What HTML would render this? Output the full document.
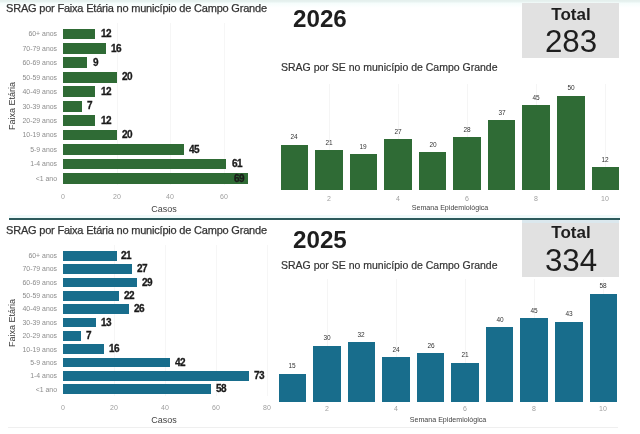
<!DOCTYPE html><html><head><meta charset="utf-8"><style>
html,body{margin:0;padding:0;background:#fff;} body{width:640px;height:434px;position:relative;overflow:hidden;font-family:"Liberation Sans", sans-serif;}
.t{position:absolute;white-space:nowrap;line-height:1;will-change:transform;} .r{position:absolute;}
</style></head><body>
<div class="r" style="left:0.00px;top:0.00px;width:640.00px;height:8.00px;background:linear-gradient(#e4efec 0px,#e8f3f1 2px,#f5fdfc 3px,#ffffff 8px);"></div>
<div class="t" style="left:6.20px;top:2.69px;font-size:11px;color:#333;font-weight:normal;letter-spacing:-0.2px;-webkit-text-stroke:0.25px #333;">SRAG por Faixa Etária no município de Campo Grande</div>
<div class="r" style="left:116.60px;top:22.60px;width:1.00px;height:162.84px;background:#f6f6f6;"></div>
<div class="r" style="left:170.20px;top:22.60px;width:1.00px;height:162.84px;background:#f6f6f6;"></div>
<div class="r" style="left:223.80px;top:22.60px;width:1.00px;height:162.84px;background:#f6f6f6;"></div>
<div class="r" style="left:63.00px;top:28.60px;width:32.16px;height:10.80px;background:#2f6b35;"></div>
<div class="t" style="left:-143.00px;width:200px;text-align:right;top:31.30px;font-size:6.9px;color:#8c8c8c;font-weight:normal;">60+ anos</div>
<div class="t" style="left:100.76px;top:29.13px;font-size:10px;color:#1a1a1a;font-weight:bold;letter-spacing:-0.5px;-webkit-text-stroke:0.3px #1a1a1a;">12</div>
<div class="r" style="left:63.00px;top:43.04px;width:42.88px;height:10.80px;background:#2f6b35;"></div>
<div class="t" style="left:-143.00px;width:200px;text-align:right;top:45.74px;font-size:6.9px;color:#8c8c8c;font-weight:normal;">70-79 anos</div>
<div class="t" style="left:111.48px;top:43.57px;font-size:10px;color:#1a1a1a;font-weight:bold;letter-spacing:-0.5px;-webkit-text-stroke:0.3px #1a1a1a;">16</div>
<div class="r" style="left:63.00px;top:57.48px;width:24.12px;height:10.80px;background:#2f6b35;"></div>
<div class="t" style="left:-143.00px;width:200px;text-align:right;top:60.18px;font-size:6.9px;color:#8c8c8c;font-weight:normal;">60-69 anos</div>
<div class="t" style="left:92.72px;top:58.02px;font-size:10px;color:#1a1a1a;font-weight:bold;letter-spacing:-0.5px;-webkit-text-stroke:0.3px #1a1a1a;">9</div>
<div class="r" style="left:63.00px;top:71.92px;width:53.60px;height:10.80px;background:#2f6b35;"></div>
<div class="t" style="left:-143.00px;width:200px;text-align:right;top:74.62px;font-size:6.9px;color:#8c8c8c;font-weight:normal;">50-59 anos</div>
<div class="t" style="left:122.20px;top:72.46px;font-size:10px;color:#1a1a1a;font-weight:bold;letter-spacing:-0.5px;-webkit-text-stroke:0.3px #1a1a1a;">20</div>
<div class="r" style="left:63.00px;top:86.36px;width:32.16px;height:10.80px;background:#2f6b35;"></div>
<div class="t" style="left:-143.00px;width:200px;text-align:right;top:89.06px;font-size:6.9px;color:#8c8c8c;font-weight:normal;">40-49 anos</div>
<div class="t" style="left:100.76px;top:86.90px;font-size:10px;color:#1a1a1a;font-weight:bold;letter-spacing:-0.5px;-webkit-text-stroke:0.3px #1a1a1a;">12</div>
<div class="r" style="left:63.00px;top:100.80px;width:18.76px;height:10.80px;background:#2f6b35;"></div>
<div class="t" style="left:-143.00px;width:200px;text-align:right;top:103.50px;font-size:6.9px;color:#8c8c8c;font-weight:normal;">30-39 anos</div>
<div class="t" style="left:87.36px;top:101.34px;font-size:10px;color:#1a1a1a;font-weight:bold;letter-spacing:-0.5px;-webkit-text-stroke:0.3px #1a1a1a;">7</div>
<div class="r" style="left:63.00px;top:115.24px;width:32.16px;height:10.80px;background:#2f6b35;"></div>
<div class="t" style="left:-143.00px;width:200px;text-align:right;top:117.94px;font-size:6.9px;color:#8c8c8c;font-weight:normal;">20-29 anos</div>
<div class="t" style="left:100.76px;top:115.78px;font-size:10px;color:#1a1a1a;font-weight:bold;letter-spacing:-0.5px;-webkit-text-stroke:0.3px #1a1a1a;">12</div>
<div class="r" style="left:63.00px;top:129.68px;width:53.60px;height:10.80px;background:#2f6b35;"></div>
<div class="t" style="left:-143.00px;width:200px;text-align:right;top:132.38px;font-size:6.9px;color:#8c8c8c;font-weight:normal;">10-19 anos</div>
<div class="t" style="left:122.20px;top:130.22px;font-size:10px;color:#1a1a1a;font-weight:bold;letter-spacing:-0.5px;-webkit-text-stroke:0.3px #1a1a1a;">20</div>
<div class="r" style="left:63.00px;top:144.12px;width:120.60px;height:10.80px;background:#2f6b35;"></div>
<div class="t" style="left:-143.00px;width:200px;text-align:right;top:146.82px;font-size:6.9px;color:#8c8c8c;font-weight:normal;">5-9 anos</div>
<div class="t" style="left:189.20px;top:144.66px;font-size:10px;color:#1a1a1a;font-weight:bold;letter-spacing:-0.5px;-webkit-text-stroke:0.3px #1a1a1a;">45</div>
<div class="r" style="left:63.00px;top:158.56px;width:163.48px;height:10.80px;background:#2f6b35;"></div>
<div class="t" style="left:-143.00px;width:200px;text-align:right;top:161.26px;font-size:6.9px;color:#8c8c8c;font-weight:normal;">1-4 anos</div>
<div class="t" style="left:232.08px;top:159.09px;font-size:10px;color:#1a1a1a;font-weight:bold;letter-spacing:-0.5px;-webkit-text-stroke:0.3px #1a1a1a;">61</div>
<div class="r" style="left:63.00px;top:173.00px;width:184.92px;height:10.80px;background:#2f6b35;"></div>
<div class="t" style="left:-143.00px;width:200px;text-align:right;top:175.70px;font-size:6.9px;color:#8c8c8c;font-weight:normal;">&lt;1 ano</div>
<div class="t" style="left:43.92px;width:200px;text-align:right;top:173.53px;font-size:10px;color:#1a1a1a;font-weight:bold;letter-spacing:-0.5px;-webkit-text-stroke:0.3px #1a1a1a;">69</div>
<div class="t" style="left:-37.00px;width:200px;text-align:center;top:193.40px;font-size:7px;color:#a0a0a0;font-weight:normal;">0</div>
<div class="t" style="left:16.60px;width:200px;text-align:center;top:193.40px;font-size:7px;color:#a0a0a0;font-weight:normal;">20</div>
<div class="t" style="left:70.20px;width:200px;text-align:center;top:193.40px;font-size:7px;color:#a0a0a0;font-weight:normal;">40</div>
<div class="t" style="left:123.80px;width:200px;text-align:center;top:193.40px;font-size:7px;color:#a0a0a0;font-weight:normal;">60</div>
<div class="t" style="left:63.50px;width:200px;text-align:center;top:205.40px;font-size:9px;color:#444;font-weight:normal;">Casos</div>
<div class="t" style="left:-38.00px;width:100px;height:10px;line-height:10px;text-align:center;top:101.00px;font-size:9px;color:#3a3a3a;transform:rotate(-90deg);will-change:auto;">Faixa Etária</div>
<div class="t" style="left:292.80px;top:7.41px;font-size:24.2px;color:#1e1e1e;font-weight:bold;">2026</div>
<div class="r" style="left:521.50px;top:3.00px;width:97.20px;height:54.80px;background:#e1e1e1;"></div>
<div class="t" style="left:470.80px;width:200px;text-align:center;top:5.51px;font-size:17px;color:#1e1e1e;font-weight:bold;">Total</div>
<div class="t" style="left:471.00px;width:200px;text-align:center;top:26.30px;font-size:31.3px;color:#1e1e1e;font-weight:normal;">283</div>
<div class="t" style="left:280.50px;top:62.21px;font-size:10.5px;color:#333;font-weight:normal;-webkit-text-stroke:0.2px #333;">SRAG por SE no município de Campo Grande</div>
<div class="r" style="left:328.90px;top:83.50px;width:1.00px;height:106.50px;background:#f5f5f5;"></div>
<div class="r" style="left:398.00px;top:83.50px;width:1.00px;height:106.50px;background:#f5f5f5;"></div>
<div class="r" style="left:467.10px;top:83.50px;width:1.00px;height:106.50px;background:#f5f5f5;"></div>
<div class="r" style="left:536.20px;top:83.50px;width:1.00px;height:106.50px;background:#f5f5f5;"></div>
<div class="r" style="left:605.30px;top:83.50px;width:1.00px;height:106.50px;background:#f5f5f5;"></div>
<div class="r" style="left:280.60px;top:144.76px;width:27.50px;height:45.24px;background:#2f6b35;"></div>
<div class="t" style="left:194.35px;width:200px;text-align:center;top:134.26px;font-size:6.5px;color:#333;font-weight:normal;">24</div>
<div class="r" style="left:315.15px;top:150.41px;width:27.50px;height:39.59px;background:#2f6b35;"></div>
<div class="t" style="left:228.90px;width:200px;text-align:center;top:139.91px;font-size:6.5px;color:#333;font-weight:normal;">21</div>
<div class="r" style="left:349.70px;top:154.19px;width:27.50px;height:35.81px;background:#2f6b35;"></div>
<div class="t" style="left:263.45px;width:200px;text-align:center;top:143.69px;font-size:6.5px;color:#333;font-weight:normal;">19</div>
<div class="r" style="left:384.25px;top:139.10px;width:27.50px;height:50.90px;background:#2f6b35;"></div>
<div class="t" style="left:298.00px;width:200px;text-align:center;top:128.60px;font-size:6.5px;color:#333;font-weight:normal;">27</div>
<div class="r" style="left:418.80px;top:152.30px;width:27.50px;height:37.70px;background:#2f6b35;"></div>
<div class="t" style="left:332.55px;width:200px;text-align:center;top:141.80px;font-size:6.5px;color:#333;font-weight:normal;">20</div>
<div class="r" style="left:453.35px;top:137.22px;width:27.50px;height:52.78px;background:#2f6b35;"></div>
<div class="t" style="left:367.10px;width:200px;text-align:center;top:126.72px;font-size:6.5px;color:#333;font-weight:normal;">28</div>
<div class="r" style="left:487.90px;top:120.25px;width:27.50px;height:69.75px;background:#2f6b35;"></div>
<div class="t" style="left:401.65px;width:200px;text-align:center;top:109.75px;font-size:6.5px;color:#333;font-weight:normal;">37</div>
<div class="r" style="left:522.45px;top:105.17px;width:27.50px;height:84.83px;background:#2f6b35;"></div>
<div class="t" style="left:436.20px;width:200px;text-align:center;top:94.67px;font-size:6.5px;color:#333;font-weight:normal;">45</div>
<div class="r" style="left:557.00px;top:95.75px;width:27.50px;height:94.25px;background:#2f6b35;"></div>
<div class="t" style="left:470.75px;width:200px;text-align:center;top:85.25px;font-size:6.5px;color:#333;font-weight:normal;">50</div>
<div class="r" style="left:591.55px;top:167.38px;width:27.50px;height:22.62px;background:#2f6b35;"></div>
<div class="t" style="left:505.30px;width:200px;text-align:center;top:156.88px;font-size:6.5px;color:#333;font-weight:normal;">12</div>
<div class="t" style="left:228.90px;width:200px;text-align:center;top:195.20px;font-size:7px;color:#a0a0a0;font-weight:normal;">2</div>
<div class="t" style="left:298.00px;width:200px;text-align:center;top:195.20px;font-size:7px;color:#a0a0a0;font-weight:normal;">4</div>
<div class="t" style="left:367.10px;width:200px;text-align:center;top:195.20px;font-size:7px;color:#a0a0a0;font-weight:normal;">6</div>
<div class="t" style="left:436.20px;width:200px;text-align:center;top:195.20px;font-size:7px;color:#a0a0a0;font-weight:normal;">8</div>
<div class="t" style="left:505.30px;width:200px;text-align:center;top:195.20px;font-size:7px;color:#a0a0a0;font-weight:normal;">10</div>
<div class="t" style="left:350.30px;width:200px;text-align:center;top:205.30px;font-size:7.1px;color:#444;font-weight:normal;">Semana Epidemiológica</div>
<div class="r" style="left:8.50px;top:214.50px;width:611.50px;height:3.00px;background:#effafa;"></div>
<div class="r" style="left:8.50px;top:217.50px;width:611.50px;height:2.00px;background:#2d5a5c;"></div>
<div class="t" style="left:6.20px;top:225.09px;font-size:11px;color:#333;font-weight:normal;letter-spacing:-0.2px;-webkit-text-stroke:0.25px #333;">SRAG por Faixa Etária no município de Campo Grande</div>
<div class="r" style="left:114.00px;top:244.80px;width:1.00px;height:150.85px;background:#f6f6f6;"></div>
<div class="r" style="left:165.00px;top:244.80px;width:1.00px;height:150.85px;background:#f6f6f6;"></div>
<div class="r" style="left:216.00px;top:244.80px;width:1.00px;height:150.85px;background:#f6f6f6;"></div>
<div class="r" style="left:267.00px;top:244.80px;width:1.00px;height:150.85px;background:#f6f6f6;"></div>
<div class="r" style="left:63.00px;top:250.80px;width:53.55px;height:9.90px;background:#186d8c;"></div>
<div class="t" style="left:-143.00px;width:200px;text-align:right;top:253.05px;font-size:6.9px;color:#8c8c8c;font-weight:normal;">60+ anos</div>
<div class="t" style="left:121.35px;top:250.88px;font-size:10px;color:#1a1a1a;font-weight:bold;letter-spacing:-0.5px;-webkit-text-stroke:0.3px #1a1a1a;">21</div>
<div class="r" style="left:63.00px;top:264.15px;width:68.85px;height:9.90px;background:#186d8c;"></div>
<div class="t" style="left:-143.00px;width:200px;text-align:right;top:266.40px;font-size:6.9px;color:#8c8c8c;font-weight:normal;">70-79 anos</div>
<div class="t" style="left:136.65px;top:264.24px;font-size:10px;color:#1a1a1a;font-weight:bold;letter-spacing:-0.5px;-webkit-text-stroke:0.3px #1a1a1a;">27</div>
<div class="r" style="left:63.00px;top:277.50px;width:73.95px;height:9.90px;background:#186d8c;"></div>
<div class="t" style="left:-143.00px;width:200px;text-align:right;top:279.75px;font-size:6.9px;color:#8c8c8c;font-weight:normal;">60-69 anos</div>
<div class="t" style="left:141.75px;top:277.58px;font-size:10px;color:#1a1a1a;font-weight:bold;letter-spacing:-0.5px;-webkit-text-stroke:0.3px #1a1a1a;">29</div>
<div class="r" style="left:63.00px;top:290.85px;width:56.10px;height:9.90px;background:#186d8c;"></div>
<div class="t" style="left:-143.00px;width:200px;text-align:right;top:293.10px;font-size:6.9px;color:#8c8c8c;font-weight:normal;">50-59 anos</div>
<div class="t" style="left:123.90px;top:290.94px;font-size:10px;color:#1a1a1a;font-weight:bold;letter-spacing:-0.5px;-webkit-text-stroke:0.3px #1a1a1a;">22</div>
<div class="r" style="left:63.00px;top:304.20px;width:66.30px;height:9.90px;background:#186d8c;"></div>
<div class="t" style="left:-143.00px;width:200px;text-align:right;top:306.45px;font-size:6.9px;color:#8c8c8c;font-weight:normal;">40-49 anos</div>
<div class="t" style="left:134.10px;top:304.28px;font-size:10px;color:#1a1a1a;font-weight:bold;letter-spacing:-0.5px;-webkit-text-stroke:0.3px #1a1a1a;">26</div>
<div class="r" style="left:63.00px;top:317.55px;width:33.15px;height:9.90px;background:#186d8c;"></div>
<div class="t" style="left:-143.00px;width:200px;text-align:right;top:319.80px;font-size:6.9px;color:#8c8c8c;font-weight:normal;">30-39 anos</div>
<div class="t" style="left:100.95px;top:317.63px;font-size:10px;color:#1a1a1a;font-weight:bold;letter-spacing:-0.5px;-webkit-text-stroke:0.3px #1a1a1a;">13</div>
<div class="r" style="left:63.00px;top:330.90px;width:17.85px;height:9.90px;background:#186d8c;"></div>
<div class="t" style="left:-143.00px;width:200px;text-align:right;top:333.15px;font-size:6.9px;color:#8c8c8c;font-weight:normal;">20-29 anos</div>
<div class="t" style="left:85.65px;top:330.98px;font-size:10px;color:#1a1a1a;font-weight:bold;letter-spacing:-0.5px;-webkit-text-stroke:0.3px #1a1a1a;">7</div>
<div class="r" style="left:63.00px;top:344.25px;width:40.80px;height:9.90px;background:#186d8c;"></div>
<div class="t" style="left:-143.00px;width:200px;text-align:right;top:346.50px;font-size:6.9px;color:#8c8c8c;font-weight:normal;">10-19 anos</div>
<div class="t" style="left:108.60px;top:344.33px;font-size:10px;color:#1a1a1a;font-weight:bold;letter-spacing:-0.5px;-webkit-text-stroke:0.3px #1a1a1a;">16</div>
<div class="r" style="left:63.00px;top:357.60px;width:107.10px;height:9.90px;background:#186d8c;"></div>
<div class="t" style="left:-143.00px;width:200px;text-align:right;top:359.85px;font-size:6.9px;color:#8c8c8c;font-weight:normal;">5-9 anos</div>
<div class="t" style="left:174.90px;top:357.69px;font-size:10px;color:#1a1a1a;font-weight:bold;letter-spacing:-0.5px;-webkit-text-stroke:0.3px #1a1a1a;">42</div>
<div class="r" style="left:63.00px;top:370.95px;width:186.15px;height:9.90px;background:#186d8c;"></div>
<div class="t" style="left:-143.00px;width:200px;text-align:right;top:373.20px;font-size:6.9px;color:#8c8c8c;font-weight:normal;">1-4 anos</div>
<div class="t" style="left:253.95px;top:371.03px;font-size:10px;color:#1a1a1a;font-weight:bold;letter-spacing:-0.5px;-webkit-text-stroke:0.3px #1a1a1a;">73</div>
<div class="r" style="left:63.00px;top:384.30px;width:147.90px;height:9.90px;background:#186d8c;"></div>
<div class="t" style="left:-143.00px;width:200px;text-align:right;top:386.55px;font-size:6.9px;color:#8c8c8c;font-weight:normal;">&lt;1 ano</div>
<div class="t" style="left:215.70px;top:384.38px;font-size:10px;color:#1a1a1a;font-weight:bold;letter-spacing:-0.5px;-webkit-text-stroke:0.3px #1a1a1a;">58</div>
<div class="t" style="left:-37.00px;width:200px;text-align:center;top:403.90px;font-size:7px;color:#a0a0a0;font-weight:normal;">0</div>
<div class="t" style="left:14.00px;width:200px;text-align:center;top:403.90px;font-size:7px;color:#a0a0a0;font-weight:normal;">20</div>
<div class="t" style="left:65.00px;width:200px;text-align:center;top:403.90px;font-size:7px;color:#a0a0a0;font-weight:normal;">40</div>
<div class="t" style="left:116.00px;width:200px;text-align:center;top:403.90px;font-size:7px;color:#a0a0a0;font-weight:normal;">60</div>
<div class="t" style="left:167.00px;width:200px;text-align:center;top:403.90px;font-size:7px;color:#a0a0a0;font-weight:normal;">80</div>
<div class="t" style="left:63.50px;width:200px;text-align:center;top:415.90px;font-size:9px;color:#444;font-weight:normal;">Casos</div>
<div class="t" style="left:-38.00px;width:100px;height:10px;line-height:10px;text-align:center;top:318.00px;font-size:9px;color:#3a3a3a;transform:rotate(-90deg);will-change:auto;">Faixa Etária</div>
<div class="t" style="left:292.80px;top:227.71px;font-size:24.2px;color:#1e1e1e;font-weight:bold;">2025</div>
<div class="r" style="left:521.50px;top:221.00px;width:97.20px;height:55.60px;background:#e1e1e1;"></div>
<div class="t" style="left:470.80px;width:200px;text-align:center;top:223.61px;font-size:17px;color:#1e1e1e;font-weight:bold;">Total</div>
<div class="t" style="left:471.00px;width:200px;text-align:center;top:245.40px;font-size:31.3px;color:#1e1e1e;font-weight:normal;">334</div>
<div class="t" style="left:280.50px;top:260.11px;font-size:10.5px;color:#333;font-weight:normal;-webkit-text-stroke:0.2px #333;">SRAG por SE no município de Campo Grande</div>
<div class="r" style="left:326.90px;top:279.00px;width:1.00px;height:122.80px;background:#f5f5f5;"></div>
<div class="r" style="left:396.00px;top:279.00px;width:1.00px;height:122.80px;background:#f5f5f5;"></div>
<div class="r" style="left:465.10px;top:279.00px;width:1.00px;height:122.80px;background:#f5f5f5;"></div>
<div class="r" style="left:534.20px;top:279.00px;width:1.00px;height:122.80px;background:#f5f5f5;"></div>
<div class="r" style="left:603.30px;top:279.00px;width:1.00px;height:122.80px;background:#f5f5f5;"></div>
<div class="r" style="left:278.60px;top:373.87px;width:27.50px;height:27.93px;background:#186d8c;"></div>
<div class="t" style="left:192.35px;width:200px;text-align:center;top:363.37px;font-size:6.5px;color:#333;font-weight:normal;">15</div>
<div class="r" style="left:313.15px;top:345.94px;width:27.50px;height:55.86px;background:#186d8c;"></div>
<div class="t" style="left:226.90px;width:200px;text-align:center;top:335.44px;font-size:6.5px;color:#333;font-weight:normal;">30</div>
<div class="r" style="left:347.70px;top:342.22px;width:27.50px;height:59.58px;background:#186d8c;"></div>
<div class="t" style="left:261.45px;width:200px;text-align:center;top:331.72px;font-size:6.5px;color:#333;font-weight:normal;">32</div>
<div class="r" style="left:382.25px;top:357.11px;width:27.50px;height:44.69px;background:#186d8c;"></div>
<div class="t" style="left:296.00px;width:200px;text-align:center;top:346.61px;font-size:6.5px;color:#333;font-weight:normal;">24</div>
<div class="r" style="left:416.80px;top:353.39px;width:27.50px;height:48.41px;background:#186d8c;"></div>
<div class="t" style="left:330.55px;width:200px;text-align:center;top:342.89px;font-size:6.5px;color:#333;font-weight:normal;">26</div>
<div class="r" style="left:451.35px;top:362.70px;width:27.50px;height:39.10px;background:#186d8c;"></div>
<div class="t" style="left:365.10px;width:200px;text-align:center;top:352.20px;font-size:6.5px;color:#333;font-weight:normal;">21</div>
<div class="r" style="left:485.90px;top:327.32px;width:27.50px;height:74.48px;background:#186d8c;"></div>
<div class="t" style="left:399.65px;width:200px;text-align:center;top:316.82px;font-size:6.5px;color:#333;font-weight:normal;">40</div>
<div class="r" style="left:520.45px;top:318.01px;width:27.50px;height:83.79px;background:#186d8c;"></div>
<div class="t" style="left:434.20px;width:200px;text-align:center;top:307.51px;font-size:6.5px;color:#333;font-weight:normal;">45</div>
<div class="r" style="left:555.00px;top:321.73px;width:27.50px;height:80.07px;background:#186d8c;"></div>
<div class="t" style="left:468.75px;width:200px;text-align:center;top:311.23px;font-size:6.5px;color:#333;font-weight:normal;">43</div>
<div class="r" style="left:589.55px;top:293.80px;width:27.50px;height:108.00px;background:#186d8c;"></div>
<div class="t" style="left:503.30px;width:200px;text-align:center;top:283.30px;font-size:6.5px;color:#333;font-weight:normal;">58</div>
<div class="t" style="left:226.90px;width:200px;text-align:center;top:405.00px;font-size:7px;color:#a0a0a0;font-weight:normal;">2</div>
<div class="t" style="left:296.00px;width:200px;text-align:center;top:405.00px;font-size:7px;color:#a0a0a0;font-weight:normal;">4</div>
<div class="t" style="left:365.10px;width:200px;text-align:center;top:405.00px;font-size:7px;color:#a0a0a0;font-weight:normal;">6</div>
<div class="t" style="left:434.20px;width:200px;text-align:center;top:405.00px;font-size:7px;color:#a0a0a0;font-weight:normal;">8</div>
<div class="t" style="left:503.30px;width:200px;text-align:center;top:405.00px;font-size:7px;color:#a0a0a0;font-weight:normal;">10</div>
<div class="t" style="left:348.30px;width:200px;text-align:center;top:416.50px;font-size:7.1px;color:#444;font-weight:normal;">Semana Epidemiológica</div>
<div class="r" style="left:521.50px;top:219.50px;width:97.20px;height:3.50px;background:#dbe8ee;"></div>
<div class="r" style="left:8.00px;top:426.80px;width:610.00px;height:1.00px;background:#efefef;"></div>
</body></html>
